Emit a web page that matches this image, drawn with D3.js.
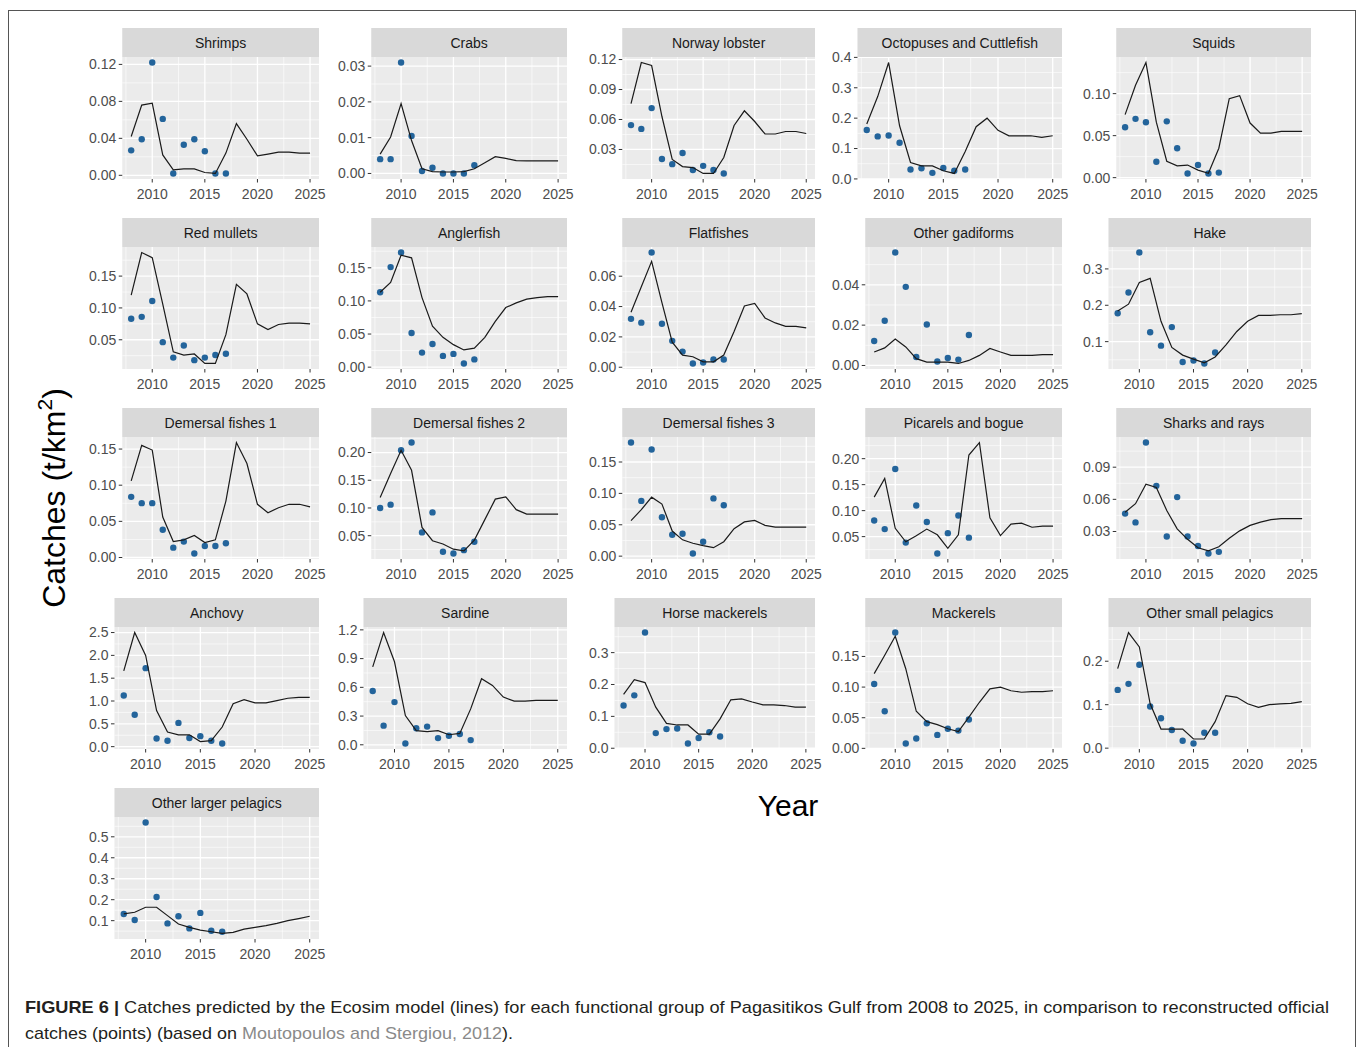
<!DOCTYPE html>
<html>
<head>
<meta charset="utf-8">
<script src="https://cdn.jsdelivr.net/npm/d3@7"></script>
<style>
  body { margin: 0; background: #fff; }
  svg { display: block; }
  text { font-family: "Liberation Sans", Arial, sans-serif; }
</style>
</head>
<body>
<div id="root"></div>
<script>
// ---- data ----
var years = d3.range(2008, 2026);     // model years
var obsYears = d3.range(2008, 2018);  // reconstructed catches
var xTicks = [2010, 2015, 2020, 2025];

var groups = [
  "Shrimps", "Crabs", "Norway lobster", "Octopuses and Cuttlefish", "Squids",
  "Red mullets", "Anglerfish", "Flatfishes", "Other gadiforms", "Hake",
  "Demersal fishes 1", "Demersal fishes 2", "Demersal fishes 3", "Picarels and bogue", "Sharks and rays",
  "Anchovy", "Sardine", "Horse mackerels", "Mackerels", "Other small pelagics",
  "Other larger pelagics"
];

var modelCatch = [
  [0.042,0.076,0.078,0.022,0.006,0.007,0.007,0.003,0.002,0.024,0.056,0.039,0.021,0.023,0.025,0.025,0.024,0.024],
  [0.0054,0.0102,0.0195,0.0092,0.0013,0.0005,0.0004,0.0004,0.0005,0.0013,0.003,0.0047,0.0042,0.0036,0.0035,0.0035,0.0035,0.0035],
  [0.0758,0.117,0.114,0.063,0.020,0.0129,0.0119,0.006,0.006,0.022,0.054,0.0687,0.058,0.0455,0.0455,0.048,0.048,0.046],
  [0.181,0.271,0.383,0.175,0.054,0.043,0.043,0.027,0.018,0.09,0.172,0.2,0.16,0.142,0.142,0.142,0.137,0.142],
  [0.075,0.11,0.137,0.066,0.0195,0.014,0.015,0.009,0.0053,0.035,0.094,0.0976,0.065,0.053,0.053,0.055,0.055,0.055],
  [0.12,0.187,0.179,0.106,0.031,0.026,0.0277,0.0128,0.0128,0.058,0.137,0.122,0.075,0.066,0.074,0.076,0.076,0.075],
  [0.113,0.128,0.169,0.165,0.105,0.062,0.045,0.034,0.026,0.0286,0.045,0.069,0.09,0.097,0.1026,0.105,0.1066,0.1066],
  [0.0363,0.053,0.0698,0.0426,0.0165,0.008,0.0069,0.0036,0.0036,0.008,0.0236,0.0404,0.042,0.0325,0.0292,0.027,0.027,0.0259],
  [0.0067,0.0087,0.0131,0.0092,0.0034,0.0017,0.0017,0.0017,0.001,0.0025,0.005,0.0084,0.0067,0.005,0.005,0.005,0.0054,0.0054],
  [0.184,0.203,0.263,0.274,0.156,0.084,0.063,0.052,0.042,0.058,0.091,0.128,0.156,0.172,0.172,0.174,0.174,0.177],
  [0.106,0.155,0.1486,0.056,0.022,0.0244,0.0305,0.0206,0.0244,0.078,0.159,0.13,0.0736,0.0619,0.0689,0.0736,0.0736,0.07],
  [0.119,0.162,0.204,0.168,0.065,0.041,0.035,0.0257,0.0226,0.042,0.079,0.116,0.12,0.097,0.089,0.089,0.089,0.089],
  [0.0566,0.074,0.094,0.083,0.04,0.026,0.0205,0.0167,0.0135,0.023,0.0437,0.0545,0.057,0.049,0.0464,0.0464,0.0464,0.0464],
  [0.126,0.162,0.066,0.040,0.0515,0.0645,0.0535,0.0274,0.0535,0.207,0.231,0.086,0.052,0.074,0.076,0.068,0.07,0.07],
  [0.048,0.0559,0.0742,0.071,0.0496,0.0325,0.0227,0.0148,0.012,0.0158,0.0237,0.0306,0.0357,0.0388,0.041,0.042,0.042,0.042],
  [1.66,2.5,2.0,0.79,0.32,0.26,0.26,0.11,0.13,0.43,0.94,1.03,0.96,0.96,1.01,1.06,1.08,1.08],
  [0.814,1.172,0.867,0.305,0.147,0.137,0.147,0.105,0.119,0.375,0.69,0.62,0.498,0.456,0.456,0.463,0.463,0.463],
  [0.169,0.215,0.206,0.129,0.078,0.073,0.073,0.044,0.044,0.092,0.152,0.155,0.145,0.136,0.136,0.134,0.129,0.129],
  [0.122,0.152,0.183,0.13,0.0605,0.0436,0.0387,0.032,0.0273,0.051,0.0752,0.097,0.1,0.094,0.0916,0.0927,0.0927,0.094],
  [0.183,0.266,0.233,0.102,0.044,0.044,0.044,0.021,0.021,0.061,0.121,0.117,0.102,0.094,0.1,0.102,0.103,0.107],
  [0.132,0.14,0.164,0.164,0.124,0.084,0.068,0.055,0.047,0.039,0.044,0.06,0.068,0.076,0.087,0.1,0.11,0.121]
];

var obsCatch = [
  [0.027,0.039,0.122,0.061,0.002,0.033,0.039,0.026,0.002,0.002],
  [0.004,0.004,0.031,0.0105,0.0007,0.0016,0.0,0.0,0.0,0.0023],
  [0.0544,0.0506,0.0714,0.0204,0.0153,0.0265,0.0095,0.0136,0.0095,0.006],
  [0.161,0.140,0.143,0.119,0.031,0.035,0.020,0.036,0.027,0.031],
  [0.060,0.070,0.066,0.019,0.067,0.035,0.005,0.015,0.005,0.006],
  [0.083,0.086,0.111,0.0463,0.022,0.041,0.018,0.022,0.026,0.028],
  [0.113,0.151,0.173,0.0515,0.022,0.035,0.017,0.020,0.0056,0.0117],
  [0.0319,0.0294,0.0756,0.0287,0.0174,0.0103,0.0025,0.0031,0.0051,0.0051],
  [0.0121,0.0222,0.056,0.039,0.0042,0.0203,0.002,0.0037,0.0029,0.0151],
  [0.178,0.235,0.345,0.126,0.089,0.14,0.044,0.048,0.04,0.07],
  [0.0839,0.0752,0.0752,0.0384,0.0136,0.022,0.0056,0.0159,0.0159,0.0197],
  [0.1,0.106,0.204,0.218,0.056,0.092,0.021,0.018,0.024,0.039],
  [0.181,0.088,0.17,0.062,0.034,0.0356,0.0043,0.023,0.092,0.081],
  [0.081,0.0645,0.18,0.0385,0.11,0.078,0.0176,0.0567,0.0906,0.048],
  [0.0467,0.0385,0.113,0.0726,0.0253,0.0621,0.0253,0.0164,0.0095,0.011],
  [1.12,0.70,1.72,0.18,0.13,0.52,0.19,0.23,0.13,0.07],
  [0.561,0.2,0.446,0.014,0.172,0.19,0.07,0.095,0.112,0.049],
  [0.134,0.166,0.363,0.0475,0.06,0.062,0.015,0.032,0.05,0.037],
  [0.105,0.0605,0.189,0.008,0.016,0.041,0.022,0.032,0.029,0.047],
  [0.134,0.148,0.192,0.0958,0.0687,0.0417,0.017,0.0108,0.0355,0.0355],
  [0.132,0.103,0.568,0.213,0.087,0.121,0.063,0.137,0.052,0.047]
];

var yTicks = [
  [0, 0.04, 0.08, 0.12],
  [0, 0.01, 0.02, 0.03],
  [0.03, 0.06, 0.09, 0.12],
  [0, 0.1, 0.2, 0.3, 0.4],
  [0, 0.05, 0.10],
  [0.05, 0.10, 0.15],
  [0, 0.05, 0.10, 0.15],
  [0, 0.02, 0.04, 0.06],
  [0, 0.02, 0.04],
  [0.1, 0.2, 0.3],
  [0, 0.05, 0.10, 0.15],
  [0.05, 0.10, 0.15, 0.20],
  [0, 0.05, 0.10, 0.15],
  [0.05, 0.10, 0.15, 0.20],
  [0.03, 0.06, 0.09],
  [0, 0.5, 1.0, 1.5, 2.0, 2.5],
  [0, 0.3, 0.6, 0.9, 1.2],
  [0, 0.1, 0.2, 0.3],
  [0, 0.05, 0.10, 0.15],
  [0, 0.1, 0.2],
  [0.1, 0.2, 0.3, 0.4, 0.5]
];

// ---- layout ----
var w = 1357, h = 1047;
var colRight = [319, 567, 815, 1062, 1311];
var labelStart = [88, 337, 588, 831, 1082];
var rowTop = 28, rowStep = 190, stripH = 29, plotH = 122;
var panelBg = "#EBEBEB", stripBg = "#D9D9D9";
var pointColor = "#23649b";

var svg = d3.select("#root").append("svg").attr("width", w).attr("height", h);
svg.append("rect").attr("width", w).attr("height", h).attr("fill", "white");
// figure border
svg.append("rect").attr("x", 8.5).attr("y", 10.5).attr("width", 1347).attr("height", h)
  .attr("fill", "none").attr("stroke", "#555").attr("stroke-width", 1);

function decimals(ticks) {
  var d = 0;
  ticks.forEach(function(t) {
    var s = String(+t.toFixed(6));
    var k = s.indexOf(".") < 0 ? 0 : s.length - s.indexOf(".") - 1;
    if (k > d) d = k;
  });
  return Math.max(d, 1);
}

groups.forEach(function(name, i) {
  var r = Math.floor(i / 5), c = i % 5;
  var top = rowTop + r * rowStep + stripH;
  var bottom = top + plotH;
  var right = colRight[c];
  var g = svg.append("g");

  // tick labels first so we can measure their width
  var fmt = d3.format("." + decimals(yTicks[i]) + "f");
  var labs = g.append("g").selectAll("text").data(yTicks[i]).enter().append("text")
    .attr("font-size", "14px").attr("fill", "#4D4D4D").attr("text-anchor", "end")
    .attr("dy", "0.35em").text(fmt);
  var maxW = 0;
  labs.each(function() { maxW = Math.max(maxW, this.getComputedTextLength()); });
  var left = labelStart[c] + maxW + 7;

  var all = modelCatch[i].concat(obsCatch[i]);
  var ext = d3.extent(all);
  var pad = (ext[1] - ext[0]) * 0.05;
  var y = d3.scaleLinear().domain([ext[0] - pad, ext[1] + pad]).range([bottom, top]);
  var x = d3.scaleLinear().domain([2008 - 0.85, 2025 + 0.85]).range([left, right]);

  labs.attr("x", left - 6).attr("y", function(d) { return y(d); });

  // panel background
  g.insert("rect", ":first-child").attr("x", left).attr("y", top)
    .attr("width", right - left).attr("height", plotH).attr("fill", panelBg);

  // minor grid
  var step = yTicks[i][1] - yTicks[i][0];
  var yMinor = [];
  for (var k = -1; k < yTicks[i].length; k++) {
    var v = yTicks[i][0] + (k + 0.5) * step;
    if (v > y.domain()[0] && v < y.domain()[1]) yMinor.push(v);
  }
  var xMinor = [2007.5, 2012.5, 2017.5, 2022.5];
  g.selectAll(".ymin").data(yMinor).enter().append("line")
    .attr("x1", left).attr("x2", right)
    .attr("y1", function(d) { return y(d); }).attr("y2", function(d) { return y(d); })
    .attr("stroke", "white").attr("stroke-width", 0.6);
  g.selectAll(".xmin").data(xMinor).enter().append("line")
    .attr("y1", top).attr("y2", bottom)
    .attr("x1", function(d) { return x(d); }).attr("x2", function(d) { return x(d); })
    .attr("stroke", "white").attr("stroke-width", 0.6);
  // major grid
  g.selectAll(".ymaj").data(yTicks[i]).enter().append("line")
    .attr("x1", left).attr("x2", right)
    .attr("y1", function(d) { return y(d); }).attr("y2", function(d) { return y(d); })
    .attr("stroke", "white").attr("stroke-width", 1.3);
  g.selectAll(".xmaj").data(xTicks).enter().append("line")
    .attr("y1", top).attr("y2", bottom)
    .attr("x1", function(d) { return x(d); }).attr("x2", function(d) { return x(d); })
    .attr("stroke", "white").attr("stroke-width", 1.3);

  // strip
  g.append("rect").attr("x", left).attr("y", top - stripH)
    .attr("width", right - left).attr("height", stripH).attr("fill", stripBg);
  g.append("text").attr("x", (left + right) / 2).attr("y", top - stripH / 2 + 1)
    .attr("dy", "0.35em").attr("text-anchor", "middle").attr("font-size", "14px")
    .attr("fill", "#1A1A1A").text(name);

  // points, then model line
  g.selectAll(".pt").data(obsCatch[i]).enter().append("circle")
    .attr("cx", function(d, j) { return x(obsYears[j]); })
    .attr("cy", function(d) { return y(d); })
    .attr("r", 3.2).attr("fill", pointColor);
  var line = d3.line().x(function(d, j) { return x(years[j]); }).y(function(d) { return y(d); });
  g.append("path").datum(modelCatch[i]).attr("d", line)
    .attr("fill", "none").attr("stroke", "#1a1a1a").attr("stroke-width", 1.2);

  // ticks
  g.selectAll(".yt").data(yTicks[i]).enter().append("line")
    .attr("x1", left - 3.5).attr("x2", left)
    .attr("y1", function(d) { return y(d); }).attr("y2", function(d) { return y(d); })
    .attr("stroke", "#333").attr("stroke-width", 1);
  g.selectAll(".xt").data(xTicks).enter().append("line")
    .attr("y1", bottom).attr("y2", bottom + 3.5)
    .attr("x1", function(d) { return x(d); }).attr("x2", function(d) { return x(d); })
    .attr("stroke", "#333").attr("stroke-width", 1);
  g.selectAll(".xl").data(xTicks).enter().append("text")
    .attr("x", function(d) { return x(d); }).attr("y", bottom + 20)
    .attr("text-anchor", "middle").attr("font-size", "14px").attr("fill", "#4D4D4D")
    .text(function(d) { return d; });
});

// axis titles
var yt = svg.append("text").attr("transform", "translate(65,498) rotate(-90)")
  .attr("text-anchor", "middle").attr("font-size", "32px").attr("fill", "#000");
yt.append("tspan").text("Catches (t/km");
yt.append("tspan").attr("font-size", "21px").attr("dy", "-13").text("2");
yt.append("tspan").attr("dy", "13").text(")");

svg.append("text").attr("x", 788).attr("y", 816).attr("text-anchor", "middle")
  .attr("font-size", "30px").attr("fill", "#000").text("Year");

// caption
var cap1 = svg.append("text").attr("x", 25).attr("y", 1013).attr("font-size", "17px")
  .attr("fill", "#231f20").attr("textLength", 1304).attr("lengthAdjust", "spacingAndGlyphs");
cap1.append("tspan").attr("font-weight", "bold").text("FIGURE 6 | ");
cap1.append("tspan").text("Catches predicted by the Ecosim model (lines) for each functional group of Pagasitikos Gulf from 2008 to 2025, in comparison to reconstructed official");
var cap2 = svg.append("text").attr("x", 25).attr("y", 1039).attr("font-size", "17px")
  .attr("fill", "#231f20").attr("textLength", 488).attr("lengthAdjust", "spacingAndGlyphs");
cap2.append("tspan").text("catches (points) (based on ");
cap2.append("tspan").attr("fill", "#8a8a8a").text("Moutopoulos and Stergiou, 2012");
cap2.append("tspan").text(").");
</script>
</body>
</html>
